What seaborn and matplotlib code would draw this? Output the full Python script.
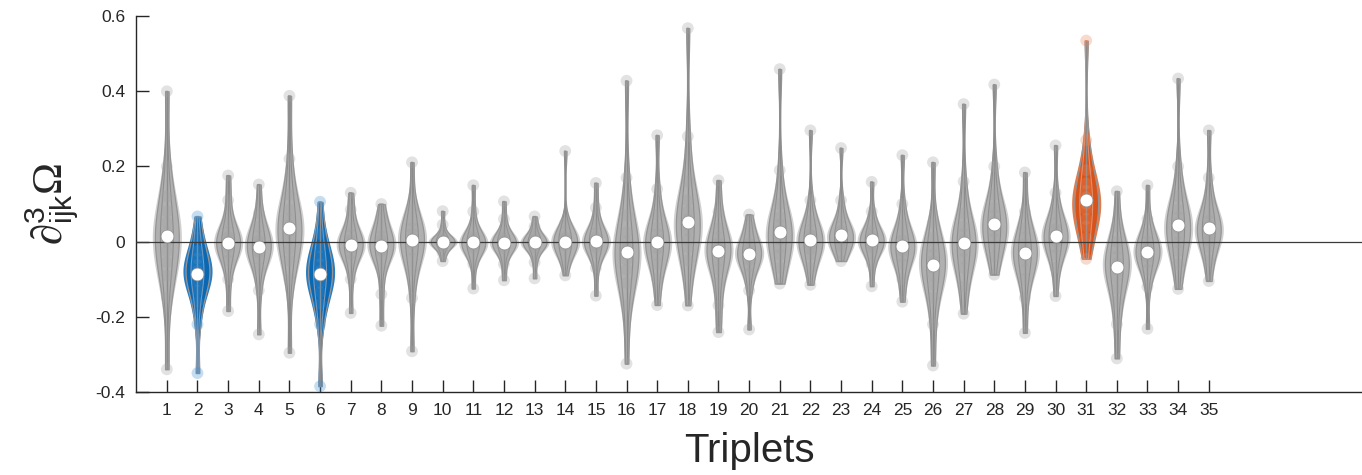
import numpy as np
import pandas as pd
import matplotlib
matplotlib.use("Agg")
import matplotlib.pyplot as plt
import seaborn as sns

sns.set_style("ticks")
plt.rcParams["font.family"] = ["Liberation Sans", "DejaVu Sans"]
plt.rcParams["mathtext.fontset"] = "custom"
plt.rcParams["mathtext.rm"] = "Liberation Serif"
plt.rcParams["mathtext.it"] = "Liberation Serif:italic"
plt.rcParams["mathtext.sf"] = "Liberation Sans"

# ---------------- data ----------------
triplets = list(range(1, 36))
vmin = [-0.34, -0.35, -0.185, -0.247, -0.296, -0.385, -0.19, -0.224, -0.292, -0.052,
        -0.125, -0.103, -0.098, -0.09, -0.144, -0.325, -0.169, -0.17, -0.241, -0.234,
        -0.112, -0.115, -0.052, -0.119, -0.16, -0.33, -0.192, -0.088, -0.243, -0.145,
        -0.046, -0.311, -0.232, -0.126, -0.105]
p05 = [-0.15, -0.22, -0.10, -0.13, -0.10, -0.22, -0.10, -0.14, -0.15, -0.03,
       -0.06, -0.06, -0.055, -0.05, -0.07, -0.17, -0.10, -0.05, -0.17, -0.13,
       -0.07, -0.07, -0.03, -0.06, -0.10, -0.22, -0.12, -0.04, -0.15, -0.07,
       0.01, -0.22, -0.12, -0.06, -0.05]
p15 = [-0.09, -0.16, -0.05, -0.07, -0.05, -0.165, -0.05, -0.07, -0.075, -0.015,
       -0.028, -0.03, -0.028, -0.022, -0.03, -0.11, -0.06, -0.015, -0.11, -0.085,
       -0.035, -0.035, -0.012, -0.03, -0.06, -0.15, -0.07, -0.01, -0.10, -0.035,
       0.04, -0.16, -0.075, -0.025, -0.015]
p25 = [-0.055, -0.13, -0.03, -0.045, -0.02, -0.135, -0.032, -0.04, -0.045, -0.009,
       -0.016, -0.018, -0.016, -0.012, -0.016, -0.075, -0.035, 0.005, -0.075, -0.065,
       -0.015, -0.02, -0.003, -0.016, -0.04, -0.115, -0.045, 0.008, -0.075, -0.015,
       0.06, -0.125, -0.055, -0.002, 0.002]
p35 = [-0.025, -0.105, -0.015, -0.028, 0.01, -0.11, -0.018, -0.025, -0.022, -0.004,
       -0.009, -0.01, -0.009, -0.006, -0.008, -0.048, -0.018, 0.03, -0.05, -0.048,
       0.005, -0.008, 0.006, -0.007, -0.025, -0.09, -0.025, 0.025, -0.052, 0.0,
       0.085, -0.095, -0.04, 0.02, 0.018]
p45 = [0.0, -0.09, -0.006, -0.017, 0.028, -0.092, -0.01, -0.015, -0.005, -0.001,
       -0.004, -0.005, -0.004, -0.002, -0.002, -0.035, -0.006, 0.045, -0.032, -0.038,
       0.018, 0.0, 0.013, 0.0, -0.015, -0.07, -0.01, 0.04, -0.037, 0.01,
       0.10, -0.075, -0.03, 0.036, 0.03]
median = [0.014, -0.085, -0.003, -0.014, 0.035, -0.085, -0.008, -0.011, 0.003, 0.0,
          -0.002, -0.003, -0.002, 0.0, 0.001, -0.028, 0.0, 0.053, -0.026, -0.033,
          0.025, 0.005, 0.017, 0.004, -0.012, -0.061, -0.004, 0.048, -0.03, 0.016,
          0.11, -0.067, -0.028, 0.043, 0.036]
p55 = [0.025, -0.078, 0.002, -0.008, 0.043, -0.078, -0.004, -0.006, 0.008, 0.002,
       0.0, 0.0, 0.0, 0.002, 0.004, -0.02, 0.006, 0.06, -0.018, -0.028,
       0.03, 0.008, 0.02, 0.007, -0.008, -0.052, 0.005, 0.055, -0.022, 0.02,
       0.118, -0.058, -0.022, 0.05, 0.042]
p65 = [0.05, -0.062, 0.012, 0.003, 0.06, -0.06, 0.005, 0.004, 0.02, 0.005,
       0.005, 0.005, 0.004, 0.006, 0.012, 0.0, 0.02, 0.08, -0.005, -0.018,
       0.045, 0.018, 0.028, 0.015, 0.003, -0.035, 0.02, 0.07, -0.007, 0.032,
       0.135, -0.04, -0.012, 0.065, 0.055]
p75 = [0.08, -0.045, 0.025, 0.015, 0.085, -0.04, 0.018, 0.015, 0.035, 0.01,
       0.012, 0.012, 0.01, 0.012, 0.022, 0.025, 0.038, 0.11, 0.01, -0.006,
       0.065, 0.03, 0.04, 0.026, 0.018, -0.015, 0.04, 0.09, 0.01, 0.048,
       0.155, -0.02, 0.0, 0.085, 0.075]
p85 = [0.12, -0.025, 0.05, 0.04, 0.125, -0.015, 0.04, 0.035, 0.055, 0.02,
       0.03, 0.025, 0.02, 0.025, 0.045, 0.07, 0.07, 0.16, 0.035, 0.01,
       0.10, 0.055, 0.065, 0.045, 0.045, 0.01, 0.075, 0.125, 0.035, 0.075,
       0.19, 0.0, 0.02, 0.12, 0.105]
p95 = [0.20, 0.01, 0.11, 0.075, 0.22, 0.02, 0.085, 0.065, 0.085, 0.045,
       0.08, 0.06, 0.04, 0.05, 0.09, 0.17, 0.14, 0.28, 0.08, 0.04,
       0.19, 0.11, 0.11, 0.08, 0.10, 0.05, 0.16, 0.20, 0.08, 0.13,
       0.27, 0.04, 0.06, 0.20, 0.17]
vmax = [0.40, 0.067, 0.176, 0.152, 0.388, 0.106, 0.13, 0.10, 0.211, 0.081,
        0.15, 0.107, 0.067, 0.241, 0.156, 0.428, 0.283, 0.568, 0.163, 0.072,
        0.459, 0.296, 0.249, 0.159, 0.23, 0.211, 0.366, 0.418, 0.184, 0.256,
        0.535, 0.134, 0.15, 0.434, 0.296]
group = ["blue" if t in (2, 6) else "orange" if t == 31 else "gray" for t in triplets]

# ---------------- long table ----------------
cols = [vmin, p05, p15, p25, p35, p45, median, p55, p65, p75, p85, p95, vmax]
rows = []
for i, t in enumerate(triplets):
    for c in cols:
        rows.append((t, c[i], group[i]))
df = pd.DataFrame(rows, columns=["triplet", "value", "group"])

band_pal = {"gray": "#d0d0d0", "blue": "#2a7cc0", "orange": "#e27a4b"}
fill_pal = {"gray": "#b0b0b0", "blue": "#0a68b3", "orange": "#d8531a"}
line_pal = {"gray": "#8e8e8e", "blue": "#7f9ab8", "orange": "#e09070"}
pt_pal = {"gray": "#a0a0a0", "blue": "#3d90d2", "orange": "#e6875c"}

fig = plt.figure(figsize=(13.62, 4.75), dpi=100)
ax = fig.add_axes([0.1, 0.175, 0.9, 0.791])

common = dict(data=df, x="triplet", y="value", hue="group", native_scale=True,
              dodge=False, legend=False, inner=None, cut=0, bw_adjust=0.75,
              density_norm="width", saturation=1, ax=ax)
sns.violinplot(palette=band_pal, width=0.95, linewidth=0, zorder=1, **common)
sns.violinplot(palette=fill_pal, width=0.78, linewidth=0.9, linecolor="#959595",
               zorder=2, **common)
sns.violinplot(palette=line_pal, width=0.42, fill=False, linewidth=0.8, zorder=3, **common)

ax.vlines(triplets, vmin, vmax, color="#8c8c8c", lw=1.0, zorder=3.5)
sns.stripplot(data=df, x="triplet", y="value", hue="group", palette=pt_pal,
              native_scale=True, jitter=False, dodge=False, legend=False,
              size=8.5, alpha=0.3, linewidth=0, zorder=4, ax=ax)
ax.axhline(0, color="#3a3a3a", lw=0.9, zorder=4.5)
sns.scatterplot(x=triplets, y=median, color="white", s=85, edgecolor="#909090",
                linewidth=0.5, zorder=6, ax=ax, legend=False)

ax.set_xlim(0, 40)
ax.set_ylim(-0.4, 0.6)
ax.set_xticks(triplets)
ax.set_xticklabels([str(t) for t in triplets])
yt = [-0.4, -0.2, 0, 0.2, 0.4, 0.6]
ax.set_yticks(yt)
ax.set_yticklabels(["-0.4", "-0.2", "0", "0.2", "0.4", "0.6"])
ax.tick_params(direction="in", length=9, width=1, color="#262626",
               labelsize=12.5, labelcolor="#262626", pad=8)
for s in ["top", "right"]:
    ax.spines[s].set_visible(False)
for s in ["left", "bottom"]:
    ax.spines[s].set_color("#262626")
    ax.spines[s].set_linewidth(1)

ax.set_xlabel("Triplets", fontsize=29, color="#262626", labelpad=10)
ax.set_ylabel(r"$\partial^{\mathsf{3}}_{\mathsf{ijk}}\Omega$", fontsize=31,
              color="#262626", labelpad=10)

fig.savefig("out.png", dpi=100)
